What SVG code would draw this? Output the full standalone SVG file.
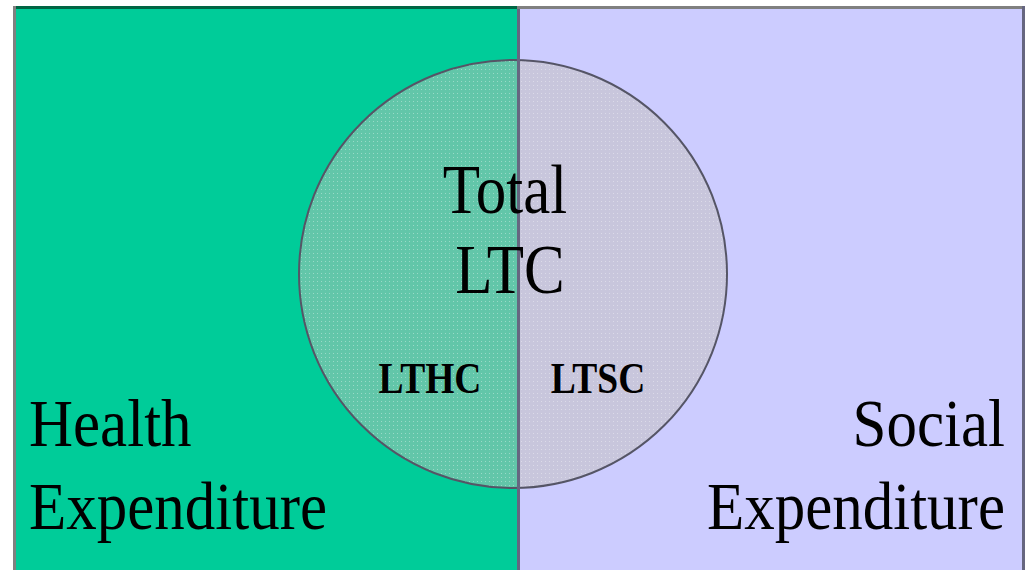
<svg xmlns="http://www.w3.org/2000/svg" width="1030" height="570" viewBox="0 0 1030 570">
  <style>
    .big { font-family: "Liberation Serif", "Times New Roman", serif; font-size: 61px; fill: #000; }
    .small { font-family: "Liberation Serif", "Times New Roman", serif; font-size: 37.5px; font-weight: bold; fill: #000; }
  </style>
  <defs>
    <pattern id="dots" width="4" height="4" patternUnits="userSpaceOnUse">
      <rect x="1" y="1" width="1" height="1" fill="#ffffff" opacity="0.35"/>
    </pattern>
    <clipPath id="circClip">
      <circle cx="513" cy="274" r="214"/>
    </clipPath>
  </defs>
  <rect x="0" y="0" width="1030" height="570" fill="#ffffff"/>
  <g id="health-region">
    <rect x="16" y="9" width="501" height="561" fill="#00CC99"/>
    <rect x="13" y="6" width="504" height="3" fill="#006644"/>
    <rect x="13" y="6" width="3" height="564" fill="#808080"/>
  </g>
  <g id="social-region">
    <rect x="520" y="9" width="502" height="561" fill="#CCCCFF"/>
    <rect x="517" y="6" width="508" height="3" fill="#808080"/>
    <rect x="1022" y="6" width="3" height="564" fill="#666680"/>
  </g>
  <g id="total-ltc">
    <circle cx="513" cy="274" r="214" fill="#C4C0BA" fill-opacity="0.5"/>
    <rect x="299" y="60" width="428" height="428" fill="url(#dots)" clip-path="url(#circClip)"/>
    <circle cx="513" cy="274" r="214" fill="none" stroke="#555566" stroke-width="2"/>
  </g>
  <g id="divider">
    <rect x="517" y="9" width="3" height="561" fill="#666680"/>
  </g>
  <g id="labels">
    <text class="big" text-anchor="middle" transform="translate(505,213) scale(1,1.14)">Total</text>
    <text class="big" text-anchor="middle" transform="translate(510,293) scale(1,1.14)">LTC</text>
    <text class="small" text-anchor="middle" transform="translate(430,393) scale(1,1.17)">LTHC</text>
    <text class="small" text-anchor="middle" transform="translate(598,393) scale(1,1.17)">LTSC</text>
    <text class="big" transform="translate(29,446) scale(1,1.12)">Health</text>
    <text class="big" transform="translate(29,529) scale(1,1.12)">Expenditure</text>
    <text class="big" text-anchor="end" transform="translate(1005,446) scale(1,1.12)">Social</text>
    <text class="big" text-anchor="end" transform="translate(1005,529) scale(1,1.12)">Expenditure</text>
  </g>
</svg>
